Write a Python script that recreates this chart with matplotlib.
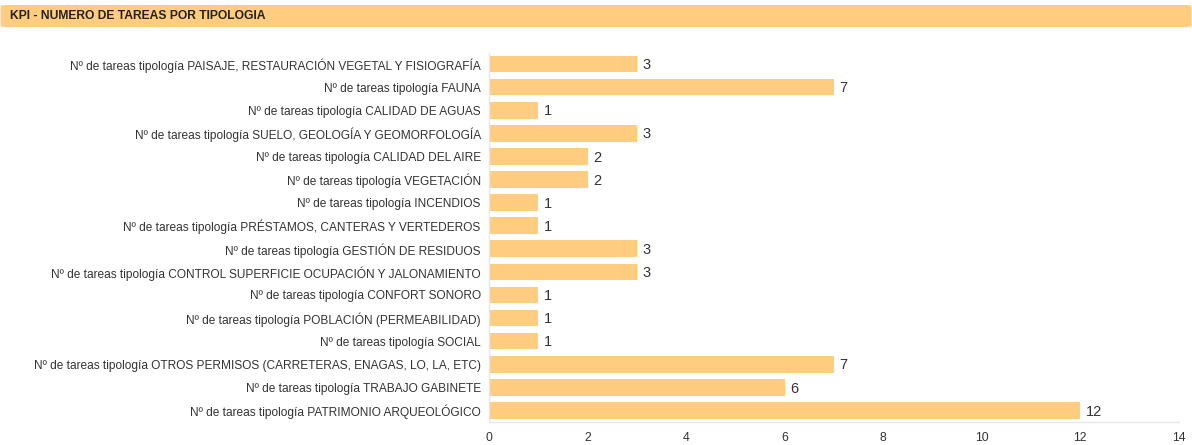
import matplotlib
matplotlib.use("Agg")
import matplotlib.pyplot as plt
from matplotlib.patches import FancyBboxPatch

plt.rcParams['font.family'] = ['Liberation Sans', 'DejaVu Sans']

categories = [
    "Nº de tareas tipología PAISAJE, RESTAURACIÓN VEGETAL Y FISIOGRAFÍA",
    "Nº de tareas tipología FAUNA",
    "Nº de tareas tipología CALIDAD DE AGUAS",
    "Nº de tareas tipología SUELO, GEOLOGÍA Y GEOMORFOLOGÍA",
    "Nº de tareas tipología CALIDAD DEL AIRE",
    "Nº de tareas tipología VEGETACIÓN",
    "Nº de tareas tipología INCENDIOS",
    "Nº de tareas tipología PRÉSTAMOS, CANTERAS Y VERTEDEROS",
    "Nº de tareas tipología GESTIÓN DE RESIDUOS",
    "Nº de tareas tipología CONTROL SUPERFICIE OCUPACIÓN Y JALONAMIENTO",
    "Nº de tareas tipología CONFORT SONORO",
    "Nº de tareas tipología POBLACIÓN (PERMEABILIDAD)",
    "Nº de tareas tipología SOCIAL",
    "Nº de tareas tipología OTROS PERMISOS (CARRETERAS, ENAGAS, LO, LA, ETC)",
    "Nº de tareas tipología TRABAJO GABINETE",
    "Nº de tareas tipología PATRIMONIO ARQUEOLÓGICO",
]
values = [3, 7, 1, 3, 2, 2, 1, 1, 3, 3, 1, 1, 1, 7, 6, 12]
xticks = [0, 2, 4, 6, 8, 10, 12, 14]
title = "KPI - NUMERO DE TAREAS POR TIPOLOGIA"

W, H = 1192, 445
fig = plt.figure(figsize=(W / 100, H / 100), dpi=100)
fig.patch.set_facecolor('white')

# header band
hdr = FancyBboxPatch((0.5 / W, 1 - 27 / H), (W - 1) / W, 22 / H,
                     boxstyle="round,pad=0,rounding_size=0.004",
                     transform=fig.transFigure, facecolor='#FFCC80',
                     edgecolor='none')
fig.patches.append(hdr)
fig.text(10 / W, 1 - 16 / H, title, fontsize=8.7, fontweight='bold',
         color='#222222', va='center', ha='left')

ax = fig.add_axes([489 / W, 1 - 422 / H, (1178.5 - 489) / W, (422 - 52.5) / H])
y = list(range(len(categories)))
bar_color = '#FFCC80'
ax.barh(y, values, height=0.72, color=bar_color, edgecolor='none')
for yi, v in zip(y, values):
    ax.text(v + 0.12, yi + 0.05, str(v), va='center', ha='left', fontsize=10.5,
            color='#333333')

ax.set_ylim(len(categories) - 0.5, -0.5)
ax.set_xlim(0, 14)
ax.set_yticks(y)
ax.set_yticklabels(categories, fontsize=8.6, color='#333333')
ax.set_xticks(xticks)
ax.set_xticklabels([str(t) for t in xticks], fontsize=8.8, color='#333333')
ax.tick_params(axis='both', length=0)
ax.tick_params(axis='y', pad=6)
ax.tick_params(axis='x', pad=7)
for s in ['top', 'right']:
    ax.spines[s].set_visible(False)
ax.spines['left'].set_color('#e6e6e6')
ax.spines['bottom'].set_color('#e6e6e6')
ax.spines['left'].set_linewidth(1)
ax.spines['bottom'].set_linewidth(1)

fig.savefig('out.png', dpi=100, facecolor='white')
